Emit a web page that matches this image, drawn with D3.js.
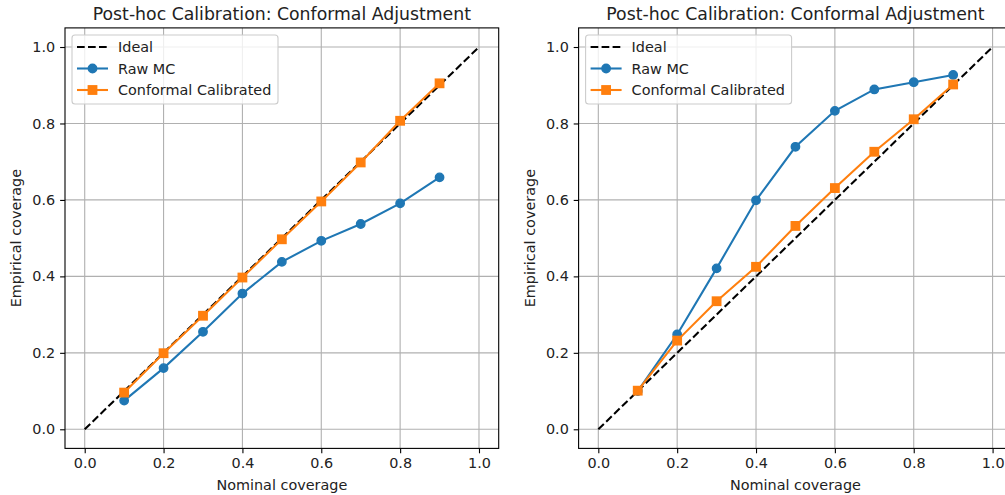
<!DOCTYPE html>
<html>
<head>
<meta charset="utf-8">
<script src="https://cdn.jsdelivr.net/npm/d3@7"></script>
<style>
  body { margin: 0; background: #fff; }
  svg { font-family: "DejaVu Sans", sans-serif; display: block; }
</style>
</head>
<body>
<svg id="chart" width="1005" height="495"></svg>
<script>
// nominal levels shared by both panels
const nominal = [0.1, 0.2, 0.3, 0.4, 0.5, 0.6, 0.7, 0.8, 0.9]
const ideal = [0, 1]
const ticks = [0, 0.2, 0.4, 0.6, 0.8, 1.0]

// left panel
const rawLeft = [0.075, 0.160, 0.255, 0.355, 0.438, 0.493, 0.537, 0.591, 0.659]
const confLeft = [0.096, 0.199, 0.297, 0.397, 0.497, 0.596, 0.698, 0.807, 0.905]

// right panel
const rawRight = [0.100, 0.248, 0.421, 0.599, 0.739, 0.833, 0.889, 0.908, 0.927]
const confRight = [0.101, 0.232, 0.335, 0.425, 0.532, 0.631, 0.726, 0.811, 0.902]

const title = 'Post-hoc Calibration: Conformal Adjustment'
const seriesNames = ['Ideal', 'Raw MC', 'Conformal Calibrated']

const blue = '#1f77b4', orange = '#ff7f0e'
const svg = d3.select('#chart')

const panels = [
  {left: 65, raw: rawLeft, conf: confLeft},
  {left: 578.6, raw: rawRight, conf: confRight}
]
const plotW = 433.7, plotTop = 27.9, plotBottom = 448.4
const fs = 14.4, mr = 4.2, mew = 1.4

panels.forEach(p => {
  const x = d3.scaleLinear().domain([-0.05, 1.05]).range([p.left, p.left + plotW])
  const y = d3.scaleLinear().domain([-0.05, 1.05]).range([plotBottom, plotTop])
  const g = svg.append('g')

  // grid
  g.selectAll('.gx').data(ticks).join('line')
    .attr('class', 'gx')
    .attr('x1', d => x(d)).attr('x2', d => x(d))
    .attr('y1', plotTop).attr('y2', plotBottom)
    .attr('stroke', '#b0b0b0').attr('stroke-width', 1.1)
  g.selectAll('.gy').data(ticks).join('line')
    .attr('class', 'gy')
    .attr('y1', d => y(d)).attr('y2', d => y(d))
    .attr('x1', p.left).attr('x2', p.left + plotW)
    .attr('stroke', '#b0b0b0').attr('stroke-width', 1.1)

  const line = d3.line().x(d => x(d[0])).y(d => y(d[1]))

  // ideal dashed
  g.append('path').datum(ideal.map(v => [v, v]))
    .attr('d', line).attr('fill', 'none')
    .attr('stroke', '#000').attr('stroke-width', 2.08)
    .attr('stroke-dasharray', '7.7,3.3')

  // raw MC
  const rawPts = nominal.map((n, i) => [n, p.raw[i]])
  g.append('path').datum(rawPts).attr('d', line).attr('fill', 'none')
    .attr('stroke', blue).attr('stroke-width', 2.08)
  g.selectAll('.rc').data(rawPts).join('circle')
    .attr('class', 'rc')
    .attr('cx', d => x(d[0])).attr('cy', d => y(d[1])).attr('r', mr)
    .attr('fill', blue).attr('stroke', blue).attr('stroke-width', mew)

  // conformal
  const confPts = nominal.map((n, i) => [n, p.conf[i]])
  g.append('path').datum(confPts).attr('d', line).attr('fill', 'none')
    .attr('stroke', orange).attr('stroke-width', 2.08)
  g.selectAll('.cs').data(confPts).join('rect')
    .attr('class', 'cs')
    .attr('x', d => x(d[0]) - mr).attr('y', d => y(d[1]) - mr)
    .attr('width', mr * 2).attr('height', mr * 2)
    .attr('fill', orange).attr('stroke', orange).attr('stroke-width', mew)

  // axes
  const xAxis = d3.axisBottom(x).tickValues(ticks).tickFormat(d3.format('.1f'))
    .tickSize(4.9).tickPadding(4.9)
  const yAxis = d3.axisLeft(y).tickValues(ticks).tickFormat(d3.format('.1f'))
    .tickSize(4.9).tickPadding(4.9)
  const gx = g.append('g').attr('transform', `translate(0,${plotBottom})`).call(xAxis)
  const gy = g.append('g').attr('transform', `translate(${p.left},0)`).call(yAxis)
  ;[gx, gy].forEach(a => {
    a.select('.domain').remove()
    a.selectAll('line').attr('stroke', '#000').attr('stroke-width', 1.1)
    a.selectAll('text').attr('font-size', fs).attr('fill', '#222')
      .attr('font-family', '"DejaVu Sans", sans-serif')
  })

  // frame
  g.append('rect').attr('x', p.left).attr('y', plotTop)
    .attr('width', plotW).attr('height', plotBottom - plotTop)
    .attr('fill', 'none').attr('stroke', '#000').attr('stroke-width', 1.1)

  // labels
  g.append('text').attr('x', p.left + plotW / 2).attr('y', 19.5)
    .attr('text-anchor', 'middle').attr('font-size', 17.3).attr('fill', '#222')
    .text(title)
  g.append('text').attr('x', p.left + plotW / 2).attr('y', 490)
    .attr('text-anchor', 'middle').attr('font-size', fs).attr('fill', '#222')
    .text('Nominal coverage')
  g.append('text')
    .attr('transform', `translate(${p.left - 44},${(plotTop + plotBottom) / 2}) rotate(-90)`)
    .attr('text-anchor', 'middle').attr('font-size', fs).attr('fill', '#222')
    .text('Empirical coverage')

  // legend
  const lx = p.left + 7, ly = 35
  const lg = g.append('g')
  lg.append('rect').attr('x', lx).attr('y', ly).attr('width', 206).attr('height', 69)
    .attr('rx', 3).attr('fill', 'rgba(255,255,255,0.8)')
    .attr('stroke', '#cccccc').attr('stroke-width', 1.1)
  seriesNames.forEach((name, i) => {
    const cy = ly + 12 + i * 21.5
    const h = lg.append('line').attr('x1', lx + 5).attr('x2', lx + 36)
      .attr('y1', cy).attr('y2', cy).attr('stroke-width', 2.08)
    if (i === 0) h.attr('stroke', '#000').attr('stroke-dasharray', '7.7,3.3')
    if (i === 1) {
      h.attr('stroke', blue)
      lg.append('circle').attr('cx', lx + 20.5).attr('cy', cy).attr('r', mr)
        .attr('fill', blue).attr('stroke', blue).attr('stroke-width', mew)
    }
    if (i === 2) {
      h.attr('stroke', orange)
      lg.append('rect').attr('x', lx + 20.5 - mr).attr('y', cy - mr)
        .attr('width', mr * 2).attr('height', mr * 2)
        .attr('fill', orange).attr('stroke', orange).attr('stroke-width', mew)
    }
    lg.append('text').attr('x', lx + 46).attr('y', cy + 5)
      .attr('font-size', fs).attr('fill', '#222').text(name)
  })
})
</script>
</body>
</html>
